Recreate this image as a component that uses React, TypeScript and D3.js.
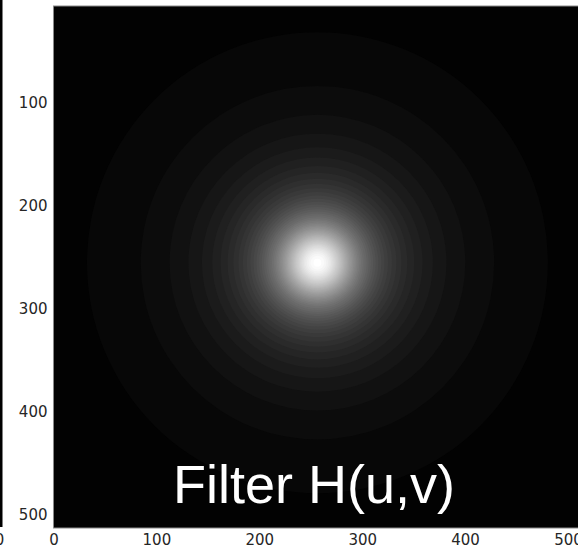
import React, { useEffect } from "react";
import * as d3 from "d3";

// Axis ticks (image pixel coordinates)
const xTicks = [0, 100, 200, 300, 400, 500];
const yTicks = [100, 200, 300, 400, 500];
// Filter parameters (Butterworth low-pass, order 1), image centre, quantisation levels
const filterCenter = [256, 256];
const cutoffD0 = [38.6];
const filterOrder = [1];
const grayLevels = [52];
const titleText = ["Filter H(u,v)"];

const W = 578;
const H = 549;

export default function App() {
  useEffect(() => {
    document.body.style.margin = "0";
  }, []);

  const x = d3.scaleLinear().domain([0, 500]).range([54, 568.5]);
  const y = d3.scaleLinear().domain([0, 500]).range([-1, 514]);
  const unit = (x(500) - x(0)) / 500;

  const L = grayLevels[0];
  const D0 = cutoffD0[0];
  const n = filterOrder[0];
  // region where round(H*L) >= k  <=>  H >= (k-0.5)/L  <=> D <= D0*((1/H)-1)^(1/2n)
  const rings = d3.range(1, L + 1).map((k) => {
    const h = (k - 0.5) / L;
    const r = D0 * Math.pow(1 / h - 1, 1 / (2 * n));
    const g = Math.round((255 * (k - 0.5)) / (L - 0.5));
    return { k, r: r * unit, fill: d3.rgb(g, g, g).formatHex() };
  });

  const cx = x(filterCenter[0]);
  const cy = y(filterCenter[1]);
  const left = x(-0.5);
  const top = 6;
  const bottom = 528;

  return (
    <svg width={W} height={H} style={{ display: "block", background: "#fff" }}>
      <defs>
        <clipPath id="imgclip">
          <rect x={left} y={top} width={W - left + 10} height={bottom - top} />
        </clipPath>
      </defs>
      {/* fragment of neighbouring subplot */}
      <rect x={0} y={0} width={2.5} height={527} fill="#000" />
      <text x={-10} y={545} textAnchor="middle" fontFamily="DejaVu Sans" fontSize={15} fill="#262626">
        500
      </text>

      <g clipPath="url(#imgclip)">
        <rect x={left} y={top} width={W - left + 10} height={bottom - top} fill="#000" />
        {rings.map((d) => (
          <circle key={d.k} cx={cx} cy={cy} r={d.r} fill={d.fill} />
        ))}
      </g>
      <rect x={left} y={top} width={W - left + 10} height={bottom - top} fill="none" stroke="#8a8a8a" strokeWidth={1} />

      {xTicks.map((t) => (
        <text key={"x" + t} x={x(t)} y={545} textAnchor="middle" fontFamily="DejaVu Sans" fontSize={15} fill="#262626">
          {t}
        </text>
      ))}
      {yTicks.map((t) => (
        <text key={"y" + t} x={47.5} y={y(t) + 5.5} textAnchor="end" fontFamily="DejaVu Sans" fontSize={15} fill="#262626">
          {t}
        </text>
      ))}

      <text x={173} y={503} fontFamily="Liberation Sans" fontSize={54} fill="#fff">
        {titleText[0]}
      </text>
    </svg>
  );
}
